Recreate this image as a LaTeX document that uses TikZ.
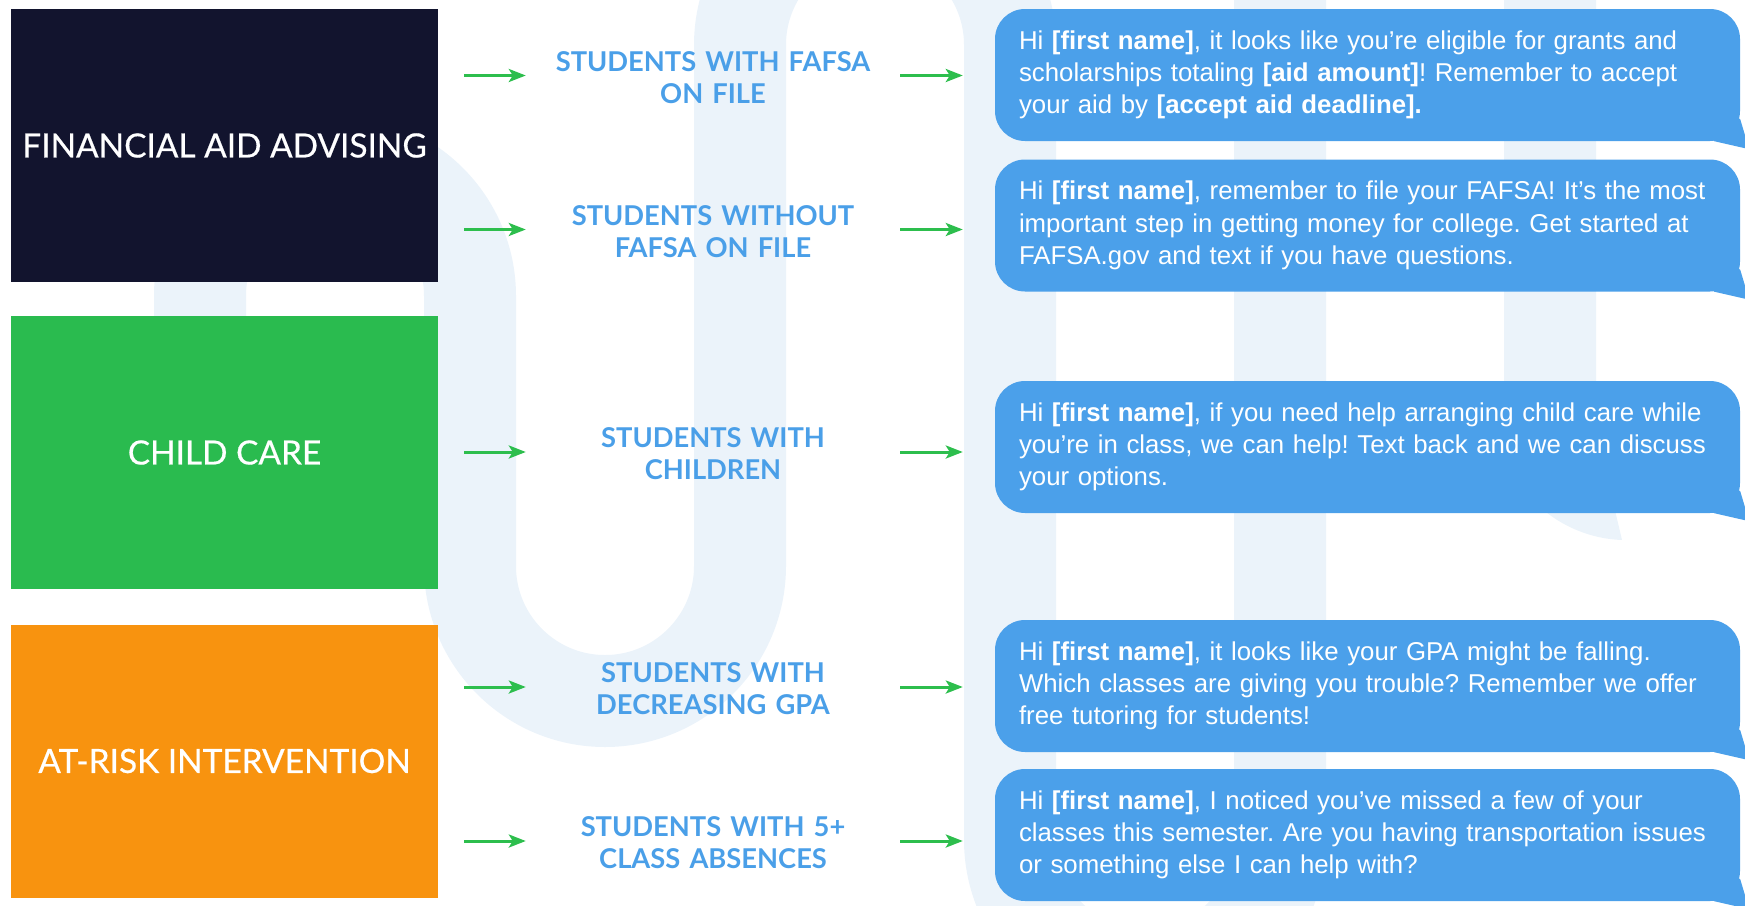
\documentclass[tikz,border=0pt]{standalone}
\usepackage{fontspec}
\setmainfont{Liberation Sans}
\newfontfamily\titlefont{Lato}[FakeBold=0.5]
\newfontfamily\labelfont{Lato}
\usetikzlibrary{arrows.meta,calc}
\frenchspacing

\definecolor{navy}{HTML}{12142E}
\definecolor{careg}{HTML}{2ABB4F}
\definecolor{riskor}{HTML}{F8930F}
\definecolor{bubble}{HTML}{4BA0EA}
\definecolor{labelblue}{HTML}{4A9FE8}
\definecolor{arrowg}{HTML}{2DBE4D}
\definecolor{washblue}{HTML}{EBF3FA}

\newcommand\msgline[1]{\mbox{#1}}

\begin{document}
\begin{tikzpicture}[x=1pt,y=-1pt,
  catbox/.style={rectangle, minimum width=427pt, minimum height=273pt, inner sep=0pt,
    text=white, font=\titlefont\fontsize{33.4}{40}\selectfont},
  group/.style={text width=374pt, align=center, inner sep=0pt, text=labelblue,
    font=\labelfont\bfseries\fontsize{27.3}{32}\selectfont},
  msg/.style={rectangle, rounded corners=30pt, fill=bubble, text=white,
    minimum width=745pt, minimum height=132pt, text width=697pt,
    inner xsep=24pt, inner ysep=0pt, align=left,
    font=\fontsize{25.8}{32.3}\selectfont},
  flow/.style={draw=arrowg, line width=3pt, -{Stealth[length=17pt,width=13pt,inset=4pt]}},
  washline/.style={draw=washblue, line width=92pt}
]
\useasboundingbox (0,0) rectangle (1745,905);

% pale serpentine mark in the background
\begin{scope}
  \clip (0,0) rectangle (1745,905);
  \draw[washline] (200,470) -- (200,296)
    arc[start angle=180, end angle=0, radius=135pt] -- (470,566)
    arc[start angle=180, end angle=360, radius=135pt] -- (740,45)
    arc[start angle=180, end angle=0, radius=135pt] -- (1010,840)
    arc[start angle=180, end angle=360, radius=135pt] -- (1280,-40)
    arc[start angle=180, end angle=0, radius=135pt] -- (1550,440);
  \fill[washblue] (1504,430) .. controls (1504,490) and (1560,538) .. (1622,540)
    -- (1596,430) -- cycle;
\end{scope}

% programme boxes
\node[catbox, fill=navy]   (fa) at (224.5,145.5) {FINANCIAL AID ADVISING};
\node[catbox, fill=careg]  (cc) at (224.5,452.5) {CHILD CARE};
\node[catbox, fill=riskor] (ar) at (224.5,761)   {AT-RISK INTERVENTION};

% student groups (text sits a little below the arrow line)
\node[group] (l1) at (713,77.5)  {STUDENTS WITH FAFSA\\ON FILE};
\node[group] (l2) at (713,231.5) {STUDENTS WITHOUT\\FAFSA ON FILE};
\node[group] (l3) at (713,454)   {STUDENTS WITH\\CHILDREN};
\node[group] (l4) at (713,689)   {STUDENTS WITH\\DECREASING GPA};
\node[group] (l5) at (713,843)   {STUDENTS WITH 5+\\CLASS ABSENCES};

% text messages
\node[msg] (b1) at (1367.5,75) {%
  \msgline{Hi \textbf{[first name]}, it looks like you’re eligible for grants and}\\
  \msgline{scholarships totaling \textbf{[aid amount]}! Remember to accept}\\
  \msgline{your aid by \textbf{[accept aid deadline].}}};
\node[msg] (b2) at (1367.5,225.5) {%
  \msgline{Hi \textbf{[first name]}, remember to file your FAFSA! It’s the most}\\
  \msgline{important step in getting money for college. Get started at}\\
  \msgline{FAFSA.gov and text if you have questions.}};
\node[msg] (b3) at (1367.5,447) {%
  \msgline{Hi \textbf{[first name]}, if you need help arranging child care while}\\
  \msgline{you’re in class, we can help! Text back and we can discuss}\\
  \msgline{your options.}};
\node[msg] (b4) at (1367.5,686) {%
  \msgline{Hi \textbf{[first name]}, it looks like your GPA might be falling.}\\
  \msgline{Which classes are giving you trouble? Remember we offer}\\
  \msgline{free tutoring for students!}};
\node[msg] (b5) at (1367.5,835) {%
  \msgline{Hi \textbf{[first name]}, I noticed you’ve missed a few of your}\\
  \msgline{classes this semester. Are you having transportation issues}\\
  \msgline{or something else I can help with?}};

% bubble tails
\begin{scope}
  \clip (0,0) rectangle (1745,905);
  \foreach \b in {b1,b2,b3,b4,b5}
    \fill[bubble] ([shift={(-30,-40)}]\b.south east) -- ([shift={(0,-22)}]\b.south east)
      -- ([shift={(9,8)}]\b.south east) -- ([shift={(-26,0)}]\b.south east) -- cycle;
\end{scope}

% arrow rows at the heights of the groups
\coordinate (r1) at (0,75.5);
\coordinate (r2) at (0,229.5);
\coordinate (r3) at (0,452);
\coordinate (r4) at (0,687);
\coordinate (r5) at (0,841);

% arrows: programme -> group -> message
\draw[flow, shorten <=26pt] (fa.east |- r1) -- (l1.west |- r1);
\draw[flow, shorten <=26pt] (fa.east |- r2) -- (l2.west |- r2);
\draw[flow, shorten <=26pt] (cc.east |- r3) -- (l3.west |- r3);
\draw[flow, shorten <=26pt] (ar.east |- r4) -- (l4.west |- r4);
\draw[flow, shorten <=26pt] (ar.east |- r5) -- (l5.west |- r5);
\draw[flow, shorten >=32pt] (l1.east |- r1) -- (b1.west |- r1);
\draw[flow, shorten >=32pt] (l2.east |- r2) -- (b2.west |- r2);
\draw[flow, shorten >=32pt] (l3.east |- r3) -- (b3.west |- r3);
\draw[flow, shorten >=32pt] (l4.east |- r4) -- (b4.west |- r4);
\draw[flow, shorten >=32pt] (l5.east |- r5) -- (b5.west |- r5);
\end{tikzpicture}
\end{document}
